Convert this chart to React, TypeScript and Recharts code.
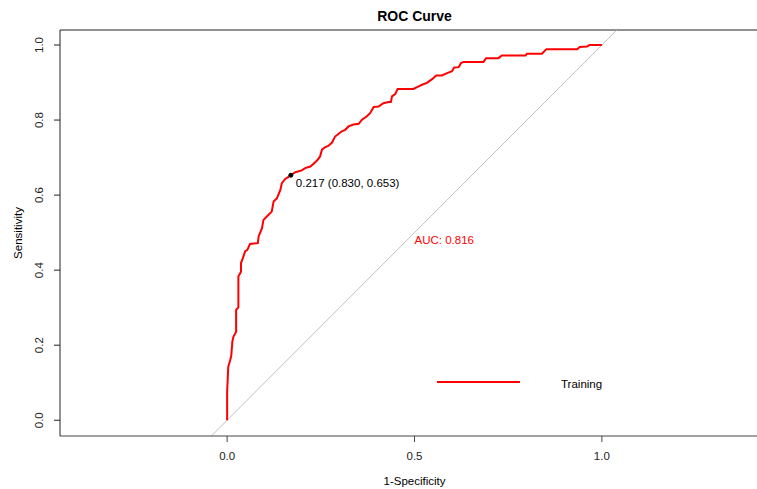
import React from "react";
import {
  ComposedChart,
  Line,
  XAxis,
  YAxis,
  ReferenceLine,
  ReferenceDot,
} from "recharts";

// ROC points (1-specificity, sensitivity)
const fpr = [
  0.0, 0.0, 0.003, 0.007, 0.011, 0.014, 0.017, 0.024, 0.024, 0.03, 0.03, 0.037,
  0.037, 0.042, 0.048, 0.054, 0.061, 0.082, 0.084, 0.093, 0.097, 0.106, 0.119,
  0.124, 0.133, 0.142, 0.146, 0.155, 0.166, 0.17, 0.182, 0.199, 0.208, 0.222,
  0.23, 0.24, 0.248, 0.253, 0.262, 0.27, 0.28, 0.288, 0.297, 0.306, 0.315,
  0.324, 0.337, 0.351, 0.36, 0.373, 0.382, 0.391, 0.404, 0.417, 0.431, 0.437,
  0.44, 0.449, 0.455, 0.497, 0.511, 0.52, 0.533, 0.547, 0.558, 0.573, 0.587,
  0.6, 0.606, 0.618, 0.624, 0.631, 0.684, 0.691, 0.724, 0.733, 0.796, 0.8,
  0.84, 0.852, 0.934, 0.941, 0.96, 0.967, 1.0,
];
const tpr = [
  0.0, 0.075, 0.143, 0.156, 0.171, 0.21, 0.223, 0.236, 0.294, 0.301, 0.383,
  0.396, 0.419, 0.432, 0.45, 0.454, 0.47, 0.472, 0.49, 0.512, 0.534, 0.543,
  0.556, 0.583, 0.592, 0.614, 0.632, 0.643, 0.65, 0.653, 0.661, 0.666, 0.672,
  0.676, 0.683, 0.692, 0.703, 0.721, 0.728, 0.731, 0.74, 0.756, 0.763, 0.77,
  0.774, 0.783, 0.788, 0.79, 0.801, 0.81, 0.819, 0.835, 0.836, 0.845, 0.848,
  0.848, 0.863, 0.87, 0.883, 0.883, 0.89, 0.894, 0.899, 0.909, 0.919, 0.919,
  0.925, 0.93, 0.94, 0.941, 0.952, 0.955, 0.955, 0.965, 0.965, 0.972, 0.972,
  0.977, 0.977, 0.989, 0.989, 0.995, 0.996, 1.0, 1.0,
];

const xTicks = [0, 0.5, 1];
const yTicks = [0, 0.2, 0.4, 0.6, 0.8, 1];

const bestThreshold = 0.217;
const bestSpecificity = 0.83;
const bestSensitivity = 0.653;
const aucValue = 0.816;
const seriesName = "Training";

const xDomain = [-0.446, 1.446];
const yDomain = [-0.042, 1.04];

const FONT = '"Liberation Sans", Arial, sans-serif';
const RED = "#ff0000";

const rocData = fpr.map((x, i) => ({ fpr: x, tpr: tpr[i] }));

const YTick = (props: any) => {
  const { x, y, payload } = props;
  return (
    <text
      x={x}
      y={y}
      transform={`rotate(-90 ${x} ${y})`}
      textAnchor="middle"
      fontSize={11.5}
      fontFamily={FONT}
      fill="#222"
    >
      {Number(payload.value).toFixed(1)}
    </text>
  );
};

const bestLabel = (props: any) => {
  const vb = props.viewBox || {};
  const cx = vb.x + (vb.width || 0) / 2;
  const cy = vb.y + (vb.height || 0) / 2;
  return (
    <text x={cx + 5} y={cy + 12} fontSize={11.5} fontFamily={FONT} fill="#000">
      {`${bestThreshold.toFixed(3)} (${bestSpecificity.toFixed(3)}, ${bestSensitivity.toFixed(3)})`}
    </text>
  );
};

const aucLabel = (props: any) => {
  const vb = props.viewBox || {};
  const cx = vb.x + (vb.width || 0) / 2;
  const cy = vb.y + (vb.height || 0) / 2;
  return (
    <text x={cx} y={cy + 4} fontSize={11.5} fontFamily={FONT} fill={RED}>
      {`AUC: ${aucValue.toFixed(3)}`}
    </text>
  );
};

export default function App() {
  return (
    <div
      style={{
        position: "absolute",
        left: 0,
        top: 0,
        width: 757,
        height: 489,
        overflow: "hidden",
        background: "#fff",
      }}
    >
      <div
        style={{
          position: "absolute",
          left: 0,
          top: 7,
          width: 829,
          textAlign: "center",
          fontFamily: FONT,
          fontWeight: "bold",
          fontSize: 14,
          lineHeight: "18px",
          color: "#000",
          zIndex: 1,
        }}
      >
        ROC Curve
      </div>
      {/* legend, drawn outside the chart so it takes no plot space */}
      <svg
        width={180}
        height={20}
        style={{ position: "absolute", left: 437, top: 374, zIndex: 1 }}
      >
        <line x1={0} y1={8} x2={83} y2={8} stroke={RED} strokeWidth={2} />
        <text x={124} y={13.5} fontSize={11.5} fontFamily={FONT} fill="#000">
          {seriesName}
        </text>
      </svg>
      <ComposedChart
        width={769}
        height={489}
        data={rocData}
        margin={{ top: 30, right: 0, bottom: 0, left: 0 }}
      >
        <XAxis
          type="number"
          dataKey="fpr"
          domain={xDomain}
          allowDataOverflow
          ticks={xTicks}
          tickFormatter={(v: number) => v.toFixed(1)}
          height={53}
          tickSize={6}
          tickMargin={10}
          stroke="#444"
          tick={{ fill: "#222", fontSize: 11.5, fontFamily: FONT }}
          label={{
            value: "1-Specificity",
            position: "insideBottom",
            offset: 4,
            style: { fill: "#000", fontSize: 11.5, fontFamily: FONT },
          }}
        />
        <YAxis
          type="number"
          domain={yDomain}
          allowDataOverflow
          ticks={yTicks}
          width={60}
          tickSize={6}
          tickMargin={11}
          stroke="#222"
          tick={<YTick />}
          label={{
            value: "Sensitivity",
            angle: -90,
            position: "insideLeft",
            offset: 18,
            style: {
              textAnchor: "middle",
              fill: "#000",
              fontSize: 11.5,
              fontFamily: FONT,
            },
          }}
        />
        <ReferenceLine y={yDomain[1]} stroke="#222" strokeWidth={1} />
        <ReferenceLine
          segment={[
            { x: yDomain[0], y: yDomain[0] },
            { x: yDomain[1], y: yDomain[1] },
          ]}
          stroke="#c0c0c0"
          strokeWidth={1}
        />
        <Line
          type="linear"
          dataKey="tpr"
          name={seriesName}
          stroke={RED}
          strokeWidth={2}
          dot={false}
          activeDot={false}
          isAnimationActive={false}
        />
        <ReferenceDot
          x={1 - bestSpecificity}
          y={bestSensitivity}
          r={2}
          fill="#000"
          stroke="#000"
          label={bestLabel}
        />
        <ReferenceDot
          x={0.5}
          y={0.48}
          r={1}
          fill="none"
          stroke="none"
          label={aucLabel}
        />
      </ComposedChart>
    </div>
  );
}
